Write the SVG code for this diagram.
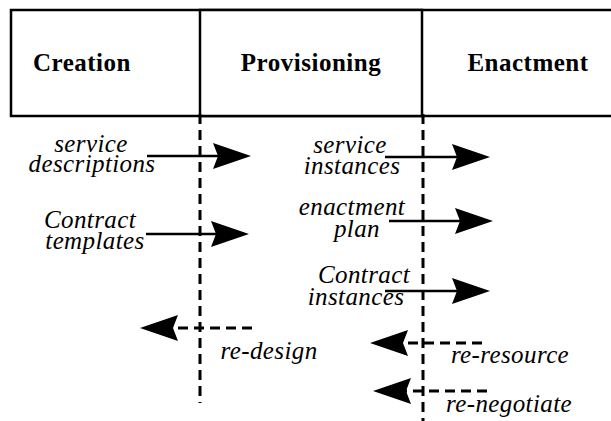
<svg xmlns="http://www.w3.org/2000/svg" width="611" height="421" viewBox="0 0 611 421">
<style>
.hdr{font-family:"Liberation Serif","Times New Roman",serif;font-weight:bold;font-size:25px;letter-spacing:0.5px;text-anchor:middle;fill:#000}
.lbl{font-family:"Liberation Serif","Times New Roman",serif;font-style:italic;font-size:25px;letter-spacing:0.4px;text-anchor:middle;fill:#000}
.box{fill:#fff;stroke:#000;stroke-width:2.5}
.solid{stroke:#000;stroke-width:2.5;fill:none;marker-end:url(#head)}
.dash{stroke:#000;stroke-width:3;fill:none;stroke-dasharray:10 6}
.dasharrow{stroke:#000;stroke-width:3;fill:none;stroke-dasharray:10 6;marker-end:url(#head)}
</style>
<defs>
<marker id="head" viewBox="0 0 38 26" refX="18" refY="13" markerWidth="38" markerHeight="26" markerUnits="userSpaceOnUse" orient="auto">
<path d="M0,0 L38,13 L0,26 L5,13 Z" fill="#000" stroke="none"/>
</marker>
</defs>
<g id="phases">
<rect class="box" x="11" y="10" width="610" height="106"/>
<rect class="box" x="200" y="10" width="222" height="106" fill="none"/>
</g>
<g id="creation"><text class="hdr" x="82" y="71">Creation</text></g>
<g id="provisioning"><text class="hdr" x="311" y="71">Provisioning</text></g>
<g id="enactment"><text class="hdr" x="528" y="71">Enactment</text></g>
<g id="connectors">
<line class="dash" x1="200" y1="114" x2="200" y2="403"/>
<line class="dash" x1="423" y1="114" x2="423" y2="421"/>
<line class="solid" x1="147" y1="156" x2="231" y2="156"/>
<line class="solid" x1="146" y1="234" x2="229" y2="234"/>
<line class="solid" x1="385" y1="157" x2="470" y2="157"/>
<line class="solid" x1="389" y1="221" x2="473" y2="221"/>
<line class="solid" x1="385" y1="291" x2="470" y2="291"/>
<line class="dasharrow" x1="252" y1="328" x2="160" y2="328"/>
<line class="dasharrow" x1="482" y1="343" x2="390" y2="343"/>
<line class="dasharrow" x1="487" y1="391" x2="393" y2="391"/>
</g>
<g id="labels">
<text class="lbl" x="91" y="152">service</text>
<text class="lbl" x="92" y="172">descriptions</text>
<text class="lbl" x="90" y="228">Contract</text>
<text class="lbl" x="95" y="249">templates</text>
<text class="lbl" x="350" y="153">service</text>
<text class="lbl" x="352" y="174">instances</text>
<text class="lbl" x="352" y="215">enactment</text>
<text class="lbl" x="357" y="237">plan</text>
<text class="lbl" x="364" y="283">Contract</text>
<text class="lbl" x="356" y="305">instances</text>
<text class="lbl" x="269" y="359">re-design</text>
<text class="lbl" x="510" y="363">re-resource</text>
<text class="lbl" x="509" y="412">re-negotiate</text>
</g>
</svg>
